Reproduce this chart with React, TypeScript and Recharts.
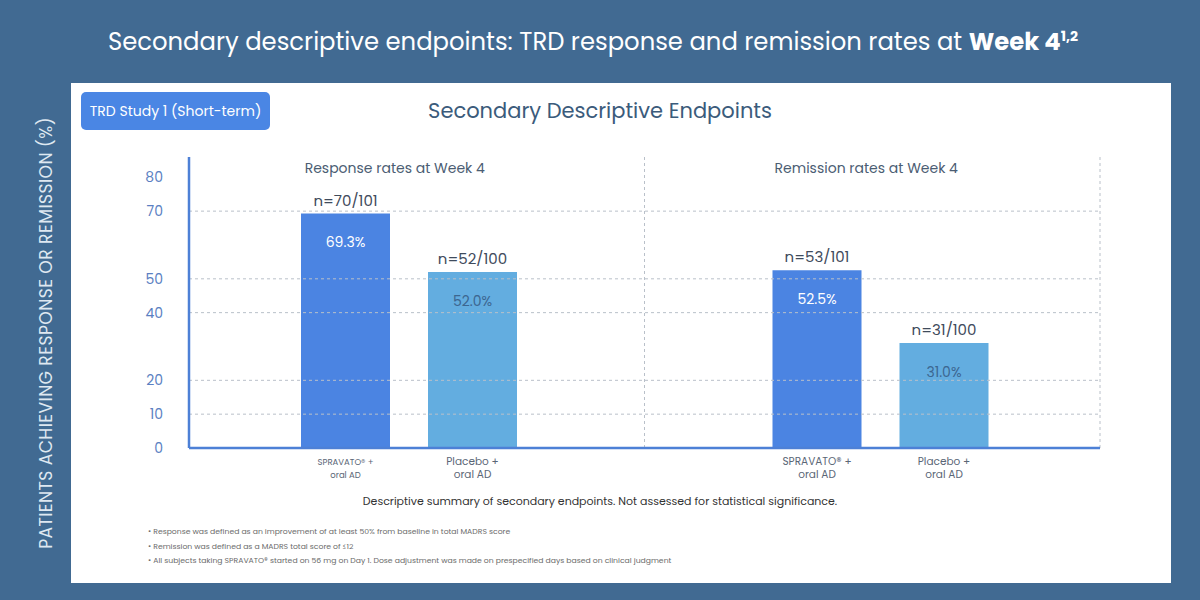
import React from "react";
import { BarChart, Bar, XAxis, YAxis, ReferenceLine, LabelList, CartesianGrid } from "recharts";

// endpoint groups and study arms
const groups = ["Response rates at Week 4", "Remission rates at Week 4"];
const spravatoRates = [69.3, 52.5];
const placeboRates = [52.0, 31.0];
const spravatoCounts = ["n=70/101", "n=53/101"];
const placeboCounts = ["n=52/100", "n=31/100"];
const armNames = [["SPRAVATO\u00ae +", "oral AD"], ["Placebo +", "oral AD"]];
const yTicks = [0, 10, 20, 40, 50, 70, 80];

const footnotes = [
  "Response was defined as an improvement of at least 50% from baseline in total MADRS score",
  "Remission was defined as a MADRS total score of \u226412",
  "All subjects taking SPRAVATO\u00ae started on 56 mg on Day 1. Dose adjustment was made on prespecified days based on clinical judgment",
];

const data = groups.map((g, i) => ({
  group: g,
  spravato: spravatoRates[i],
  placebo: placeboRates[i],
  spravatoN: spravatoCounts[i],
  placeboN: placeboCounts[i],
}));

const FONT = "Poppins, 'Open Sans', sans-serif";
const AXIS_BLUE = "#4d80d6";
const GRID = "#b9c0c9";

// arm name written under each bar
const armLabel = (lines: string[]) => (props: any) => {
  const { x, y, width, height, index } = props;
  const cx = Number(x) + Number(width) / 2;
  const base = Number(y) + Number(height);
  const size = lines[0].startsWith("SPRAVATO") && index === 0 ? 8.5 : 10.5;
  return (
    <text x={cx} textAnchor="middle" fill="#5a6676" fontSize={size} fontFamily={FONT}>
      <tspan x={cx} y={base + 17}>{lines[0]}</tspan>
      <tspan x={cx} y={base + 30}>{lines[1]}</tspan>
    </text>
  );
};

export default function App() {
  return (
    <div
      style={{
        position: "absolute",
        left: 0,
        top: 0,
        width: 1200,
        height: 600,
        background: "#416a92",
        fontFamily: FONT,
        overflow: "hidden",
      }}
    >
      <div
        style={{
          position: "absolute",
          top: 23,
          left: -7,
          width: 1200,
          textAlign: "center",
          color: "#fff",
          fontSize: 24.3,
        }}
      >
        Secondary descriptive endpoints: TRD response and remission rates at{" "}
        <b>
          Week 4<sup style={{ fontSize: 14 }}>1,2</sup>
        </b>
      </div>

      <div
        style={{
          position: "absolute",
          left: 46,
          top: 333,
          transform: "translate(-50%, -50%) rotate(-90deg)",
          whiteSpace: "nowrap",
          color: "#dfe8f1",
          fontSize: 17.2,
          letterSpacing: 0.4,
        }}
      >
        PATIENTS ACHIEVING RESPONSE OR REMISSION (%)
      </div>

      <div
        style={{
          position: "absolute",
          left: 71,
          top: 83,
          width: 1100,
          height: 500,
          background: "#fff",
        }}
      >
        <div
          style={{
            position: "absolute",
            left: 10,
            top: 9,
            width: 189,
            height: 38,
            borderRadius: 5,
            background: "#4a86e4",
            color: "#fff",
            fontSize: 14,
            lineHeight: "38px",
            textAlign: "center",
          }}
        >
          TRD Study 1 (Short-term)
        </div>
        <div
          style={{
            position: "absolute",
            top: 12,
            width: 1058,
            textAlign: "center",
            color: "#3b5b7b",
            fontSize: 21,
          }}
        >
          Secondary Descriptive Endpoints
        </div>
        <div
          style={{
            position: "absolute",
            top: 410,
            width: 1058,
            textAlign: "center",
            color: "#333",
            fontSize: 11,
          }}
        >
          Descriptive summary of secondary endpoints. Not assessed for statistical significance.
        </div>
        <div style={{ position: "absolute", left: 77, top: 443, color: "#6a6a6a", fontSize: 7.7 }}>
          {footnotes.map((f) => (
            <div key={f} style={{ height: 14.5 }}>
              {"\u2022 " + f}
            </div>
          ))}
        </div>
      </div>

      <div style={{ position: "absolute", left: 100, top: 140 }}>
        <BarChart
          width={1020}
          height={360}
          data={data}
          margin={{ top: 17, right: 20, bottom: 52, left: 39 }}
          barSize={89}
          barGap={38}
        >
          {/* right-hand edge of the plot, dashed */}
          <CartesianGrid
            horizontal={false}
            stroke={GRID}
            strokeDasharray="3 3"
            verticalCoordinatesGenerator={({ offset }: any) => [offset.left + offset.width]}
          />
          <XAxis dataKey="group" hide padding={{ left: -16, right: -16 }} />
          <YAxis
            domain={[0, 86]}
            ticks={yTicks}
            width={50}
            axisLine={{ stroke: AXIS_BLUE, strokeWidth: 2.5 }}
            tickLine={false}
            tickMargin={20}
            tick={{ fill: "#5b7fc2", fontSize: 14, fontFamily: FONT }}
          />
          {yTicks
            .filter((t) => t > 0 && t < 80)
            .map((t) => (
              <ReferenceLine key={t} y={t} stroke={GRID} strokeDasharray="3 3" />
            ))}
          <ReferenceLine x={groups[1]} position="start" stroke={GRID} strokeDasharray="3 3" />
          {groups.map((g) => (
            <ReferenceLine
              key={g}
              x={g}
              stroke="none"
              label={{
                value: g,
                position: "insideTop",
                offset: 6,
                fill: "#4b5d73",
                fontSize: 14,
                fontFamily: FONT,
                dx: -14,
              }}
            />
          ))}
          <Bar dataKey="spravato" fill="#4b84e2" isAnimationActive={false}>
            <LabelList
              dataKey="spravato"
              position="insideTop"
              offset={24}
              formatter={(v: any) => Number(v).toFixed(1) + "%"}
              fill="#fff"
              fontSize={14}
              fontFamily={FONT}
            />
            <LabelList dataKey="spravatoN" position="top" offset={8} fill="#3f4b5c" fontSize={15} fontFamily={FONT} />
            <LabelList content={armLabel(armNames[0])} />
          </Bar>
          <Bar dataKey="placebo" fill="#63ade0" isAnimationActive={false}>
            <LabelList
              dataKey="placebo"
              position="insideTop"
              offset={24}
              formatter={(v: any) => Number(v).toFixed(1) + "%"}
              fill="#3c6690"
              fontSize={14}
              fontFamily={FONT}
            />
            <LabelList dataKey="placeboN" position="top" offset={8} fill="#3f4b5c" fontSize={15} fontFamily={FONT} />
            <LabelList content={armLabel(armNames[1])} />
          </Bar>
          <ReferenceLine y={0} stroke={AXIS_BLUE} strokeWidth={2.5} />
        </BarChart>
      </div>
    </div>
  );
}
